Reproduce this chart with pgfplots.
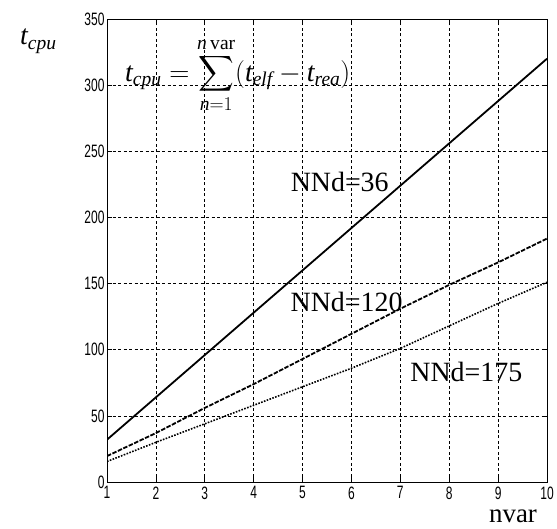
\documentclass[border=0pt]{standalone}
\usepackage{fix-cm}
\usepackage{amsmath}
\usepackage{pgfplots}
\pgfplotsset{compat=1.18}
\usepackage{graphicx}
\usepackage{fontspec}
\setmainfont{Liberation Serif}
\newfontfamily\tickfont{Liberation Sans}
\newcommand{\ti}[1]{\text{\itshape #1}}

\begin{document}
\begin{tikzpicture}
    \begin{axis}[
        name=ax,
        scale only axis,
        width=440bp, height=463bp,
        xmin=1, xmax=10, ymin=0, ymax=350,
        xtick={1,...,10},
        ytick={0,50,...,350},
        grid=major,
        major grid style={black, line width=0.7bp, dash pattern=on 3bp off 2.5bp},
        axis line style={black, line width=1bp},
        tick align=inside,
        major tick length=5bp,
        tick style={black, line width=0.7bp},
        /pgf/number format/assume math mode=true,
        xticklabel={\scalebox{0.67}[1]{\tickfont\fontsize{18}{18}\selectfont\pgfmathprintnumber{\tick}}},
        yticklabel={\scalebox{0.67}[1]{\tickfont\fontsize{18}{18}\selectfont\pgfmathprintnumber{\tick}}},
        xticklabel style={yshift=-1bp},
        yticklabel style={xshift=1bp},
    ]
    % NNd=36
    \addplot[black, line width=1.8bp] coordinates {
        (1,32) (2,64) (3,96) (4,128) (5,160) (6,192) (7,224) (8,256) (9,288) (10,320)
    };
    % NNd=120
    \addplot[black, line width=1.8bp, dash pattern=on 4.5bp off 1.5bp] coordinates {
        (1,19.6) (2,37) (3,56) (4,74) (5,93) (6,112) (7,131) (8,149) (9,166) (10,184)
    };
    % NNd=175
    \addplot[black, line width=1.6bp, dash pattern=on 1.6bp off 1.4bp] coordinates {
        (1,15.5) (2,30) (3,44) (4,58) (5,72) (6,86) (7,101) (8,118) (9,135) (10,151)
    };
    \node[font=\fontsize{28}{30}\selectfont] at (axis cs:5.76,227) {NNd=36};
    \node[font=\fontsize{28}{30}\selectfont] at (axis cs:5.9,136) {NNd=120};
    \node[font=\fontsize{28}{30}\selectfont] at (axis cs:8.35,83) {NNd=175};
    \end{axis}
    \node[anchor=base west, inner sep=0pt, font=\fontsize{28}{30}\selectfont]
        at ([xshift=-87bp,yshift=-26bp]ax.north west) {$\ti{t}_{\ti{cpu}}$};
    \node[anchor=base west, inner sep=0pt, font=\fontsize{28}{32}\selectfont]
        at ([xshift=18bp,yshift=-62bp]ax.north west)
        {$\displaystyle \ti{t}_{\ti{cpu}}=\sum_{\ti{n}=1}^{\ti{n}\,\text{var}}(\ti{t}_{\ti{elf}}-\ti{t}_{\ti{rea}})$};
    \node[anchor=base, inner sep=0pt, font=\fontsize{27}{29}\selectfont]
        at ([xshift=-34bp,yshift=-40bp]ax.south east) {nvar};
    \path[use as bounding box] ([xshift=-107bp,yshift=-46bp]ax.south west)
        rectangle ([xshift=10bp,yshift=19bp]ax.north east);
\end{tikzpicture}
\end{document}
